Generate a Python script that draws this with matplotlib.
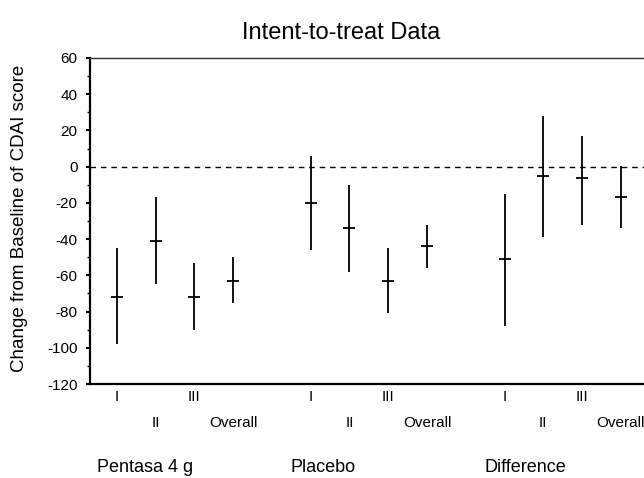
import numpy as np
import matplotlib
matplotlib.use('Agg')
import matplotlib.pyplot as plt
from matplotlib.ticker import MultipleLocator

plt.rcParams['font.family'] = ['Liberation Sans', 'DejaVu Sans']
plt.rcParams['axes.unicode_minus'] = False

# Data
groups = ['Pentasa 4 g', 'Placebo', 'Difference']
subgroups = ['I', 'II', 'III', 'Overall']

means = [-72, -41, -72, -63,
         -20, -34, -63, -44,
         -51, -5, -6.5, -17]
lower = [-98, -65, -90, -75,
         -46, -58, -81, -56,
         -88, -39, -32, -34]
upper = [-45, -17, -53, -50,
         6, -10, -45, -32,
         -15, 28, 17, 0.5]

# positions: 4 per group, one empty slot between groups
pos = np.array([g * 5 + k for g in range(len(groups)) for k in range(len(subgroups))])
means = np.array(means)
lower = np.array(lower)
upper = np.array(upper)

fig = plt.figure(figsize=(6.44, 4.78), dpi=100)
ax = fig.add_axes([90 / 644, 1 - 384 / 478, 1 - 90 / 644 + 0.002, (384 - 58) / 478])

ax.vlines(pos, lower, upper, color='black', lw=1.3)
ax.plot(pos, means, ls='none', marker='_', ms=9, mew=1.3, color='black')

ax.axhline(0, color='black', ls=(0, (4, 3.5)), lw=1)

ax.set_ylim(-120, 60)
ax.set_xlim(-0.69, 13.63)
ax.yaxis.set_major_locator(MultipleLocator(20))
ax.yaxis.set_minor_locator(MultipleLocator(10))
ax.tick_params(axis='y', direction='out', length=3, width=1.5, labelsize=11, pad=6)
ax.tick_params(axis='y', which='minor', length=2, width=1)
ax.set_xticks([])

for side in ['left', 'bottom']:
    ax.spines[side].set_linewidth(1.6)
ax.spines['top'].set_linewidth(1)
ax.spines['top'].set_color('#333333')

fig.text(20 / 644, 1 - 218 / 478, 'Change from Baseline of CDAI score',
         rotation=90, ha='center', va='center', fontsize=13.5)

# category labels, staggered in two rows
trans = ax.get_xaxis_transform()
for i, p in enumerate(pos):
    k = i % 4
    yrow = -0.04 if k % 2 == 0 else -0.12
    ax.text(p, yrow, subgroups[k], transform=trans, ha='center', va='center', fontsize=11)

# group names along the bottom edge
for g, name in enumerate(groups):
    ax.text(g * 5 - 0.52, -(472 - 384) / 326, name, transform=trans,
            ha='left', va='baseline', fontsize=13)

fig.text(341 / 644, 1 - 33 / 478, 'Intent-to-treat Data', ha='center', va='center', fontsize=17)

fig.savefig('out.png', dpi=100)
